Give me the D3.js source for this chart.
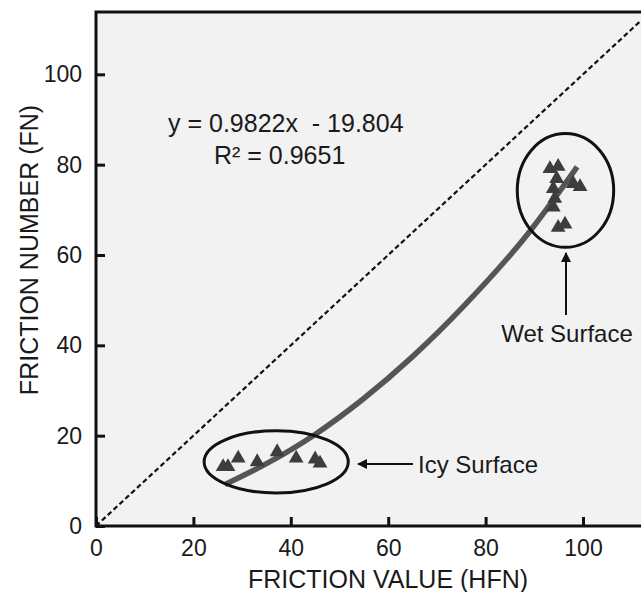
<!DOCTYPE html>
<html>
<head>
<meta charset="utf-8">
<script src="https://cdn.jsdelivr.net/npm/d3@7"></script>
<style>
  body { margin: 0; background: #fff; }
  svg text { font-family: "Liberation Sans", Arial, sans-serif; fill: #1a1a1a; }
</style>
</head>
<body>
<div id="chart"></div>
<script>
const icyX = [26.1, 27.1, 29.2, 33.1, 37.2, 41.1, 45.0, 46.0];
const icyY = [13.1, 13.1, 15.0, 14.2, 16.4, 15.0, 14.8, 13.9];
const wetX = [93.2, 94.9, 94.6, 93.9, 94.2, 93.9, 98.0, 99.4, 94.9, 96.3];
const wetY = [79.1, 79.6, 76.9, 74.7, 72.5, 70.6, 75.8, 75.1, 66.1, 66.8];

// trend curve
const trendX = [26.5, 35, 44.6, 54.6, 65, 75.8, 88.7, 98.8];
const trendY = [9.2, 13.8, 20.0, 27.9, 37.5, 49.0, 64.7, 79.5];

const xTicks = [0, 20, 40, 60, 80, 100];
const yTicks = [0, 20, 40, 60, 80, 100];

const eqLine1 = "y = 0.9822x  - 19.804";
const eqLine2 = "R² = 0.9651";
const xTitle = "FRICTION VALUE (HFN)";
const yTitle = "FRICTION NUMBER (FN)";

function chart() {
    const W = 641, H = 592;
    const margin = { top: 12, right: 0, bottom: 66, left: 96 };

    const svg = d3.select("#chart").append("svg")
        .attr("width", W)
        .attr("height", H);

    const x = d3.scaleLinear().domain([0, 112]).range([margin.left, margin.left + 112 * 4.87]);
    const y = d3.scaleLinear().domain([0, 113.8]).range([H - margin.bottom, margin.top]);

    // plot background
    svg.append("rect")
        .attr("x", x(0))
        .attr("y", y(113.8))
        .attr("width", W + 20 - x(0))
        .attr("height", y(0) - y(113.8))
        .attr("fill", "#f2f2f2")
        .attr("stroke", "#111")
        .attr("stroke-width", 3);

    // 1:1 line
    svg.append("line")
        .attr("x1", x(0)).attr("y1", y(0))
        .attr("x2", x(112)).attr("y2", y(112))
        .attr("stroke", "#111")
        .attr("stroke-width", 2.2)
        .attr("stroke-dasharray", "5,3");

    // axes (ticks inside)
    svg.append("g")
        .attr("transform", `translate(0,${y(0)})`)
        .call(d3.axisBottom(x).tickValues(xTicks).tickSizeInner(-9).tickSizeOuter(0).tickPadding(14))
        .call(g => g.select(".domain").remove())
        .call(g => g.selectAll(".tick line").attr("stroke", "#111").attr("stroke-width", 3))
        .call(g => g.selectAll("text").style("font-size", "23px").attr("fill", "#1a1a1a"));

    svg.append("g")
        .attr("transform", `translate(${x(0)},0)`)
        .call(d3.axisLeft(y).tickValues(yTicks).tickSizeInner(-9).tickSizeOuter(0).tickPadding(14))
        .call(g => g.select(".domain").remove())
        .call(g => g.selectAll(".tick line").attr("stroke", "#111").attr("stroke-width", 3))
        .call(g => g.selectAll("text").style("font-size", "23px").attr("fill", "#1a1a1a"));

    // axis titles
    svg.append("text")
        .attr("x", 388)
        .attr("y", 588)
        .attr("text-anchor", "middle")
        .style("font-size", "25px")
        .text(xTitle);

    svg.append("text")
        .attr("transform", `translate(38,250) rotate(-90)`)
        .attr("text-anchor", "middle")
        .style("font-size", "25px")
        .text(yTitle);

    // trend curve
    const line = d3.line()
        .x((d, i) => x(trendX[i]))
        .y((d, i) => y(trendY[i]))
        .curve(d3.curveMonotoneX);
    svg.append("path")
        .attr("d", line(trendX))
        .attr("fill", "none")
        .attr("stroke", "#555")
        .attr("stroke-width", 5.5);

    // markers
    const tri = d3.symbol().type(d3.symbolTriangle).size(95);
    const pts = icyX.map((v, i) => [v, icyY[i]]).concat(wetX.map((v, i) => [v, wetY[i]]));
    svg.append("g").selectAll("path")
        .data(pts)
        .enter().append("path")
        .attr("d", tri)
        .attr("transform", d => `translate(${x(d[0])},${y(d[1])})`)
        .attr("fill", "#3d3d3d");

    // ellipses around the groups
    svg.append("ellipse")
        .attr("cx", x(37.0)).attr("cy", y(14.2))
        .attr("rx", x(14.8) - x(0)).attr("ry", y(0) - y(6.9))
        .attr("fill", "none").attr("stroke", "#111").attr("stroke-width", 3);
    svg.append("ellipse")
        .attr("cx", x(96.4)).attr("cy", y(74.3))
        .attr("rx", x(9.9) - x(0)).attr("ry", y(0) - y(12.6))
        .attr("fill", "none").attr("stroke", "#111").attr("stroke-width", 3);

    // arrows
    svg.append("defs").append("marker")
        .attr("id", "head")
        .attr("viewBox", "0 0 10 10")
        .attr("refX", 9).attr("refY", 5)
        .attr("markerWidth", 5).attr("markerHeight", 5)
        .attr("orient", "auto")
        .append("path").attr("d", "M0,0L10,5L0,10z").attr("fill", "#111");

    svg.append("line")
        .attr("x1", 413).attr("y1", 464).attr("x2", 358).attr("y2", 464)
        .attr("stroke", "#111").attr("stroke-width", 2)
        .attr("marker-end", "url(#head)");
    svg.append("line")
        .attr("x1", 566).attr("y1", 315).attr("x2", 566).attr("y2", 253)
        .attr("stroke", "#111").attr("stroke-width", 2)
        .attr("marker-end", "url(#head)");

    svg.append("text")
        .attr("x", 418).attr("y", 473)
        .style("font-size", "24px")
        .text("Icy Surface");
    svg.append("text")
        .attr("x", 567).attr("y", 342)
        .attr("text-anchor", "middle")
        .style("font-size", "24px")
        .text("Wet Surface");

    // regression label
    svg.append("text")
        .attr("x", 168).attr("y", 132)
        .style("font-size", "25px")
        .style("white-space", "pre")
        .text(eqLine1);
    svg.append("text")
        .attr("x", 214).attr("y", 164)
        .style("font-size", "25px")
        .text(eqLine2);
}

chart();
</script>
</body>
</html>
